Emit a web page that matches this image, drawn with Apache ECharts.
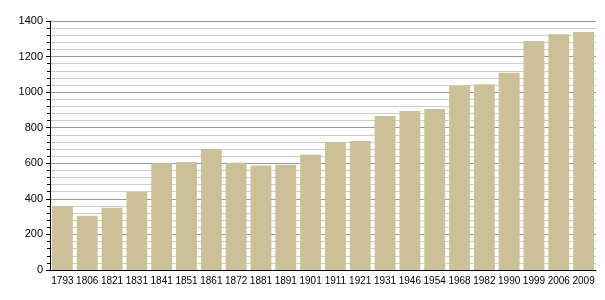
<!DOCTYPE html>
<html><head><meta charset="utf-8">
<script src="https://cdn.jsdelivr.net/npm/echarts@6/dist/echarts.min.js"></script>
<style>html,body{margin:0;padding:0;background:#fff}#c{width:605px;height:300px}</style>
</head><body><div id="c"></div>
<script>
const years = ['1793','1806','1821','1831','1841','1851','1861','1872','1881','1891','1901','1911','1921','1931','1946','1954','1968','1982','1990','1999','2006','2009'];
const population = [360,305,350,438,600,607,680,603,588,592,648,720,725,866,894,905,1034,1045,1109,1287,1326,1338];
const yTicks = {min:0, max:1400, interval:200};

const chart = echarts.init(document.getElementById('c'), null, {renderer:'canvas'});
chart.setOption({
  animation:false,
  grid:{left:50, right:9, top:21, bottom:30},
  xAxis:{
    type:'category', data:years,
    axisLine:{lineStyle:{color:'#000', width:1}},
    axisTick:{show:false},
    axisLabel:{color:'#000', fontSize:10, fontFamily:'Liberation Sans, Arial', margin:6, interval:0}
  },
  yAxis:{
    type:'value', min:yTicks.min, max:yTicks.max, interval:yTicks.interval,
    axisLine:{show:true, lineStyle:{color:'#000', width:1}},
    axisTick:{show:true, length:4, lineStyle:{color:'#000'}},
    minorTick:{show:true, splitNumber:5, length:3, lineStyle:{color:'#000'}},
    splitLine:{lineStyle:{color:'#999', width:1}},
    minorSplitLine:{show:true, lineStyle:{color:'#ccc', width:1}},
    axisLabel:{color:'#000', fontSize:11, fontFamily:'Liberation Sans, Arial', margin:7, formatter:v=>String(v)}
  },
  series:[{
    type:'bar', data:population, barCategoryGap:'16%',
    itemStyle:{color:'#cbc097'}
  }]
});
</script></body></html>
